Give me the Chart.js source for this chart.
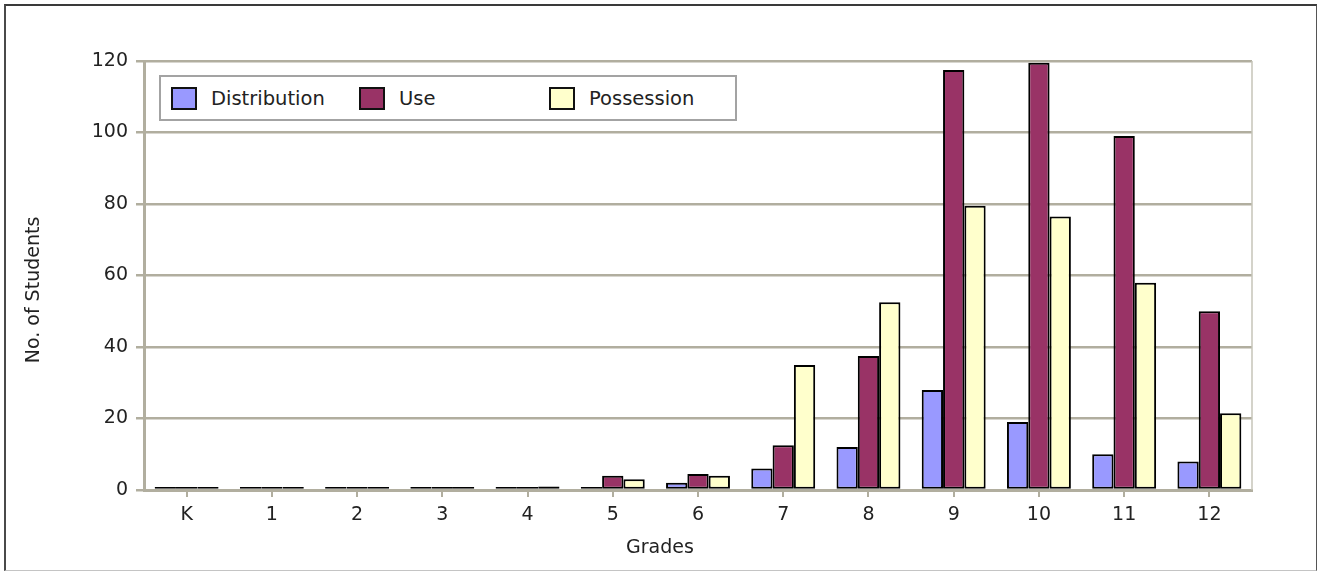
<!DOCTYPE html>
<html>
<head>
<meta charset="utf-8">
<script src="https://cdn.jsdelivr.net/npm/chart.js@4/dist/chart.umd.min.js"></script>
<style>
  html, body { margin: 0; padding: 0; background: #fff; }
  #wrap { position: relative; width: 1317px; height: 571px; overflow: hidden; }
  #frame { position: absolute; left: 4px; top: 4px; width: 1313px; height: 567px; box-sizing: border-box;
           border-left: 2px solid #4a4a4a; border-top: 2px solid #3a3a3a; border-right: 1px solid #555; border-bottom: 1px solid #c4c4c4; pointer-events: none; }
  #c { position: absolute; left: 0; top: 0; }
  #legend { position: absolute; left: 159px; top: 75px; width: 578px; height: 46px; box-sizing: border-box;
            border: 2px solid #a3a3a3; background: #fff; font-family: 'DejaVu Sans', sans-serif; font-size: 19.5px; color: #222; }
  .item { position: absolute; top: 0; height: 42px; display: flex; align-items: center; }
  .sw { width: 26px; height: 23px; box-sizing: border-box; border: 2px solid #111; margin-right: 14px; }
</style>
</head>
<body>
<div id="wrap">
  <canvas id="c" width="1317" height="571"></canvas>
  <div id="legend"></div>
  <div id="frame"></div>
</div>
<script>
const grades = ['K','1','2','3','4','5','6','7','8','9','10','11','12'];
const distribution = [0,0,0,0,0,0,2,6,12,28,19,10,8];
const use = [0,0,0,0,0,4,4.5,12.5,37.5,117.5,119.5,99,50];
const possession = [0,0,0,0,1,3,4,35,52.5,79.5,76.5,58,21.5];
const seriesNames = ['Distribution','Use','Possession'];
const seriesColors = ['#9999FF','#993366','#FFFFCC'];
const yTicks = [0,20,40,60,80,100,120];
const xTitle = 'Grades';
const yTitle = 'No. of Students';

const gridColor = '#b1ae9f';

const datasets = [distribution, use, possession].map((d, i) => ({
  label: seriesNames[i],
  data: d,
  backgroundColor: seriesColors[i],
  borderColor: '#000',
  borderWidth: 2,
  borderSkipped: false,
  minBarLength: 3,
  categoryPercentage: 0.75,
  barPercentage: 1.0
}));

const extras = {
  id: 'extras',
  beforeDatasetsDraw(chart) {
    const {ctx, chartArea} = chart;
    ctx.save();
    ctx.strokeStyle = '#c6c4b8';
    ctx.lineWidth = 1.5;
    ctx.beginPath();
    ctx.moveTo(chartArea.right, chartArea.top);
    ctx.lineTo(chartArea.right, chartArea.bottom);
    ctx.stroke();
    ctx.restore();
  },
  afterDraw(chart) {
    const {ctx} = chart;
    ctx.save();
    ctx.fillStyle = '#222';
    ctx.font = "19px 'DejaVu Sans', sans-serif";
    ctx.textAlign = 'center';
    ctx.textBaseline = 'middle';
    ctx.fillText(xTitle, 660, 548);
    ctx.translate(34, 290);
    ctx.rotate(-Math.PI / 2);
    ctx.fillText(yTitle, 0, 0);
    ctx.restore();
  }
};

Chart.defaults.font.family = "'DejaVu Sans', sans-serif";
Chart.defaults.font.size = 19;
Chart.defaults.color = '#222';

new Chart(document.getElementById('c'), {
  type: 'bar',
  data: { labels: grades, datasets },
  options: {
    responsive: false,
    animation: false,
    devicePixelRatio: 1,
    layout: { padding: { left: 0, top: 61, right: 65, bottom: 0 } },
    plugins: { legend: { display: false }, tooltip: { enabled: false } },
    scales: {
      x: {
        grid: { offset: false, drawOnChartArea: false, drawTicks: true, tickLength: 7, color: gridColor, lineWidth: 2 },
        border: { display: true, color: gridColor, width: 3 },
        ticks: { padding: 7, font: { size: 19 }, color: '#222', maxRotation: 0 },
        title: { display: false },
        afterFit(s) { s.height = 81; }
      },
      y: {
        min: 0, max: 120,
        afterBuildTicks(s) { s.ticks = yTicks.map(v => ({ value: v })); },
        grid: { color: gridColor, lineWidth: 2.5, tickLength: 8 },
        border: { display: true, color: gridColor, width: 3 },
        ticks: { padding: 8, font: { size: 19 }, color: '#222' },
        title: { display: false },
        afterFit(s) { s.width = 144; }
      }
    }
  },
  plugins: [extras]
});

// HTML legend built from the series
const legend = document.getElementById('legend');
const itemLefts = [10, 198, 388];
seriesNames.forEach((name, i) => {
  const it = document.createElement('div');
  it.className = 'item';
  it.style.left = itemLefts[i] + 'px';
  const sw = document.createElement('div');
  sw.className = 'sw';
  sw.style.background = seriesColors[i];
  const tx = document.createElement('span');
  tx.textContent = name;
  it.appendChild(sw); it.appendChild(tx);
  legend.appendChild(it);
});
</script>
</body>
</html>
